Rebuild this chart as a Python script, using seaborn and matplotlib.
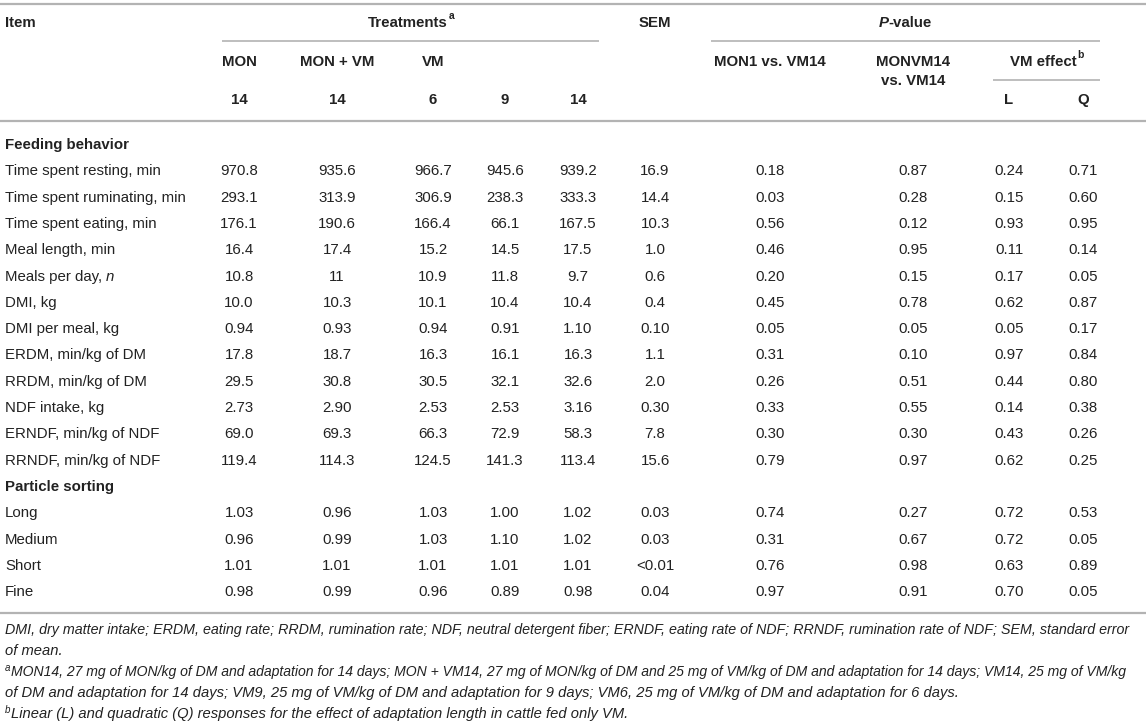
import matplotlib
matplotlib.use("Agg")
import matplotlib.pyplot as plt
import seaborn as sns

# table values (kept as printed text)
items = ["Time spent resting, min", "Time spent ruminating, min", "Time spent eating, min",
         "Meal length, min", "Meals per day, n", "DMI, kg", "DMI per meal, kg",
         "ERDM, min/kg of DM", "RRDM, min/kg of DM", "NDF intake, kg",
         "ERNDF, min/kg of NDF", "RRNDF, min/kg of NDF",
         "Long", "Medium", "Short", "Fine"]
sections = ["Feeding behavior", "Particle sorting"]
section_start = [0, 12]

mon14 = ["970.8", "293.1", "176.1", "16.4", "10.8", "10.0", "0.94", "17.8", "29.5", "2.73", "69.0", "119.4",
         "1.03", "0.96", "1.01", "0.98"]
monvm14 = ["935.6", "313.9", "190.6", "17.4", "11", "10.3", "0.93", "18.7", "30.8", "2.90", "69.3", "114.3",
           "0.96", "0.99", "1.01", "0.99"]
vm6 = ["966.7", "306.9", "166.4", "15.2", "10.9", "10.1", "0.94", "16.3", "30.5", "2.53", "66.3", "124.5",
       "1.03", "1.03", "1.01", "0.96"]
vm9 = ["945.6", "238.3", "66.1", "14.5", "11.8", "10.4", "0.91", "16.1", "32.1", "2.53", "72.9", "141.3",
       "1.00", "1.10", "1.01", "0.89"]
vm14 = ["939.2", "333.3", "167.5", "17.5", "9.7", "10.4", "1.10", "16.3", "32.6", "3.16", "58.3", "113.4",
        "1.02", "1.02", "1.01", "0.98"]
sem = ["16.9", "14.4", "10.3", "1.0", "0.6", "0.4", "0.10", "1.1", "2.0", "0.30", "7.8", "15.6",
       "0.03", "0.03", "<0.01", "0.04"]
p_mon_vm = ["0.18", "0.03", "0.56", "0.46", "0.20", "0.45", "0.05", "0.31", "0.26", "0.33", "0.30", "0.79",
            "0.74", "0.31", "0.76", "0.97"]
p_monvm_vm = ["0.87", "0.28", "0.12", "0.95", "0.15", "0.78", "0.05", "0.10", "0.51", "0.55", "0.30", "0.97",
              "0.27", "0.67", "0.98", "0.91"]
p_lin = ["0.24", "0.15", "0.93", "0.11", "0.17", "0.62", "0.05", "0.97", "0.44", "0.14", "0.43", "0.62",
         "0.72", "0.72", "0.63", "0.70"]
p_quad = ["0.71", "0.60", "0.95", "0.14", "0.05", "0.87", "0.17", "0.84", "0.80", "0.38", "0.26", "0.25",
          "0.53", "0.05", "0.89", "0.05"]

treat_top = ["MON", "MON + VM", "VM", "", ""]
treat_days = ["14", "14", "6", "9", "14"]

footnotes = [
    ("", "DMI, dry matter intake; ERDM, eating rate; RRDM, rumination rate; NDF, neutral detergent fiber; "
         "ERNDF, eating rate of NDF; RRNDF, rumination rate of NDF; SEM, standard error"),
    ("", "of mean."),
    ("a", "MON14, 27 mg of MON/kg of DM and adaptation for 14 days; MON + VM14, 27 mg of MON/kg of DM and "
          "25 mg of VM/kg of DM and adaptation for 14 days; VM14, 25 mg of VM/kg"),
    ("", "of DM and adaptation for 14 days; VM9, 25 mg of VM/kg of DM and adaptation for 9 days; "
         "VM6, 25 mg of VM/kg of DM and adaptation for 6 days."),
    ("b", "Linear (L) and quadratic (Q) responses for the effect of adaptation length in cattle fed only VM."),
]

sns.set_theme(style="white")
plt.rcParams["font.family"] = ["Liberation Sans", "DejaVu Sans"]

W, H = 1146, 723
fig = plt.figure(figsize=(W / 100, H / 100), dpi=100)
ax = fig.add_axes([0, 0, 1, 1])
ax.set_xlim(0, W)
ax.set_ylim(H, 0)
ax.axis("off")

ink = "#222222"
rule = "#b3b3b3"
fs = 10.8

col_x = [239, 337, 433, 505, 578, 655, 770, 913, 1009, 1083]
columns = [mon14, monvm14, vm6, vm9, vm14, sem, p_mon_vm, p_monvm_vm, p_lin, p_quad]


def sup_after(t, s, size=7.5, **kw):
    ax.annotate(s, xy=(1, 0.62), xycoords=t, xytext=(0.5, 0), textcoords="offset points",
                fontsize=size, va="bottom", ha="left", color=ink, **kw)


# rules
ax.hlines(4, 0, W, color=rule, lw=1.6)
ax.hlines(41, 222, 599, color=rule, lw=1.2)
ax.hlines(41, 711, 1100, color=rule, lw=1.2)
ax.hlines(80, 993, 1100, color=rule, lw=1.2)
ax.hlines(121, 0, W, color=rule, lw=1.6)
ax.hlines(613, 0, W, color=rule, lw=1.6)

# header
hd = dict(fontsize=fs, fontweight="bold", color=ink, va="center")
ax.text(5, 23, "Item", ha="left", **hd)
t = ax.text(408, 23, "Treatments", ha="center", **hd)
sup_after(t, "a", fontweight="bold")
ax.text(655, 23, "SEM", ha="center", **hd)
tp = ax.text(910, 23, "-value", ha="center", **hd)
ax.annotate("P", xy=(0, 0.5), xycoords=tp, ha="right", va="center", fontsize=fs,
            fontweight="bold", fontstyle="italic", color=ink)
for x, top, day in zip(col_x[:5], treat_top, treat_days):
    if top:
        ax.text(x, 62, top, ha="center", **hd)
    ax.text(x, 100, day, ha="center", **hd)
ax.text(770, 62, "MON1 vs. VM14", ha="center", **hd)
ax.text(913, 62, "MONVM14", ha="center", **hd)
ax.text(913, 81, "vs. VM14", ha="center", **hd)
t = ax.text(1043, 62, "VM effect", ha="center", **hd)
sup_after(t, "b", fontweight="bold")
ax.text(1009, 100, "L", ha="center", **hd)
ax.text(1083, 100, "Q", ha="center", **hd)

# body
row_h = 26.3
y = 145
rows_y = []
for i, item in enumerate(items):
    if i in section_start:
        ax.text(5, y, sections[section_start.index(i)], ha="left", **hd)
        y += row_h
    rows_y.append(y)
    y += row_h

for i, item in enumerate(items):
    yy = rows_y[i]
    if item.endswith(", n"):
        t = ax.text(5, yy, item[:-1], ha="left", va="center", fontsize=fs, color=ink)
        ax.annotate("n", xy=(1, 0.5), xycoords=t, ha="left", va="center", fontsize=fs,
                    fontstyle="italic", color=ink)
    else:
        ax.text(5, yy, item, ha="left", va="center", fontsize=fs, color=ink)
    for x, col in zip(col_x, columns):
        ax.text(x, yy, col[i], ha="center", va="center", fontsize=fs, color=ink)

# footnotes (shrink a line only if it would run past the right edge)
fn_y = [630, 651, 672, 693, 714]
renderer = fig.canvas.get_renderer()
for (mark, txt), yy in zip(footnotes, fn_y):
    x0 = 5
    if mark:
        ax.text(x0, yy - 4, mark, ha="left", va="center", fontsize=7, fontstyle="italic", color=ink)
        x0 = 11
    t = ax.text(x0, yy, txt, ha="left", va="center", fontsize=10.6, fontstyle="italic", color=ink)
    w = t.get_window_extent(renderer).width
    room = W - 6 - x0
    if w > room:
        t.set_fontsize(10.6 * room / w)

fig.savefig("out.png", dpi=100)
